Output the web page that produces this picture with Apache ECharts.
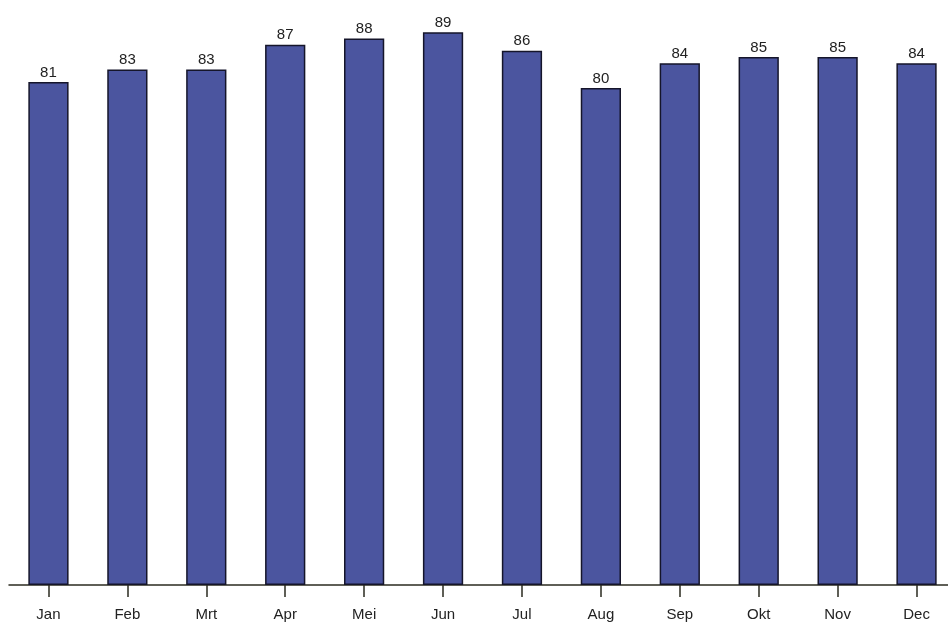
<!DOCTYPE html>
<html>
<head>
<meta charset="utf-8">
<script src="https://cdn.jsdelivr.net/npm/echarts@6/dist/echarts.min.js"></script>
<style>
  html, body { margin: 0; padding: 0; background: #fff; overflow: hidden; }
  #chart { width: 956px; height: 624px; }
</style>
</head>
<body>
<div id="chart"></div>
<script>
// maanden en waarden
var months = ['Jan', 'Feb', 'Mrt', 'Apr', 'Mei', 'Jun', 'Jul', 'Aug', 'Sep', 'Okt', 'Nov', 'Dec'];
var values = [81, 83, 83, 87, 88, 89, 86, 80, 84, 85, 85, 84];

var chart = echarts.init(document.getElementById('chart'));

var option = {
  animation: false,
  grid: {
    left: 9,
    top: 26,
    right: 0,
    bottom: 39
  },
  xAxis: {
    type: 'category',
    data: months,
    axisLine: { lineStyle: { color: '#2b2b20', width: 1.5 } },
    axisTick: { show: true, alignWithLabel: true, length: 12, lineStyle: { color: '#2b2b20', width: 1.5 } },
    axisLabel: {
      color: '#222',
      fontFamily: 'Liberation Sans, Arial, sans-serif',
      fontSize: 15,
      margin: 22
    }
  },
  yAxis: {
    type: 'value',
    min: 0,
    max: 90,
    show: false,
    splitLine: { show: false }
  },
  series: [{
    type: 'bar',
    data: values,
    barWidth: '51%',
    itemStyle: {
      color: '#4b559f',
      borderColor: '#15152a',
      borderWidth: 1.5
    },
    label: {
      show: true,
      position: 'top',
      distance: 2,
      color: '#222',
      fontFamily: 'Liberation Sans, Arial, sans-serif',
      fontSize: 15
    }
  }]
};

chart.setOption(option);
</script>
</body>
</html>
